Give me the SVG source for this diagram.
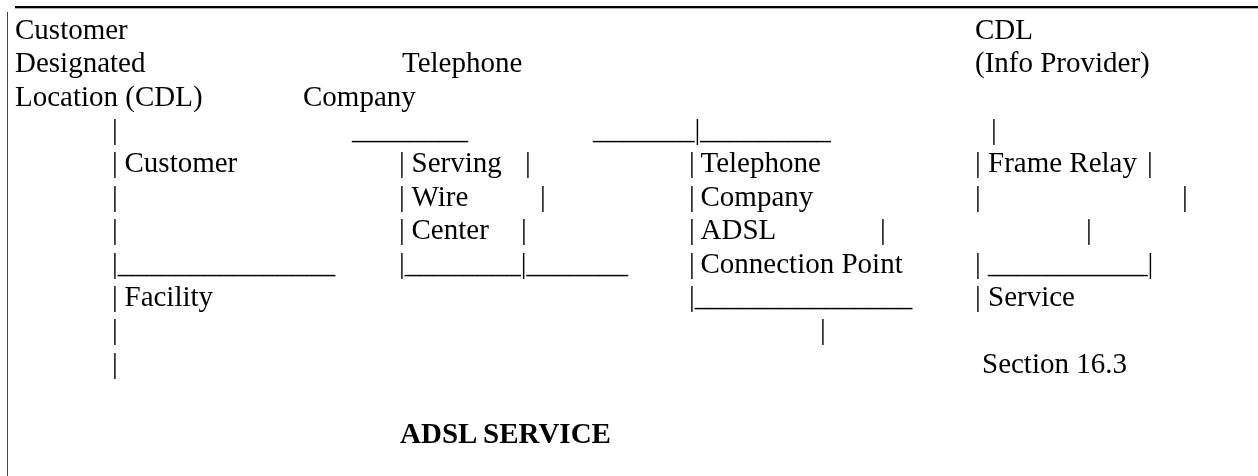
<svg xmlns="http://www.w3.org/2000/svg" width="1258" height="476" viewBox="0 0 1258 476">
<style>
text{font-family:"Liberation Serif","Times New Roman",serif;font-size:29px;fill:#000}
.b{font-weight:bold}
</style>
<defs>
<filter id="flat" x="0" y="0" width="1" height="1"><feOffset dx="0" dy="0"/></filter>
</defs>
<rect width="1258" height="476" fill="#fff"/>
<g filter="url(#flat)">
<rect width="1258" height="476" fill="#fff"/>
<g id="frame">
<rect x="15" y="6" width="1243" height="2.3" fill="#000"/>
<line x1="7.5" y1="12" x2="7.5" y2="476" stroke="#444" stroke-width="1"/>
</g>
<g id="customer-location">
<text x="15" y="39">Customer</text>
<text x="15" y="72.4">Designated</text>
<text x="15" y="105.7">Location (CDL)</text>
</g>
<g id="telephone-company">
<text x="402" y="72.4">Telephone</text>
<text x="303" y="105.7">Company</text>
</g>
<g id="info-provider">
<text x="975" y="39">CDL</text>
<text x="975" y="72.4">(Info Provider)</text>
</g>
<g id="connectors">
<text x="112" y="139">|</text>
<text x="352" y="139">________</text>
<text x="593" y="139">_______|_________</text>
<text x="991" y="139">|</text>
<text x="112" y="205.8">|</text>
<text x="112" y="239.1">|</text>
<text x="112" y="272.5">|_______________</text>
<text x="112" y="339.2">|</text>
<text x="820" y="339.2">|</text>
<text x="112" y="372.5">|</text>
</g>
<g id="customer-facility">
<text y="172.4"><tspan x="112">|</tspan><tspan x="124.5">Customer</tspan></text>
<text y="305.8"><tspan x="112">|</tspan><tspan x="124.5">Facility</tspan></text>
</g>
<g id="serving-wire-center">
<text y="172.4"><tspan x="399">|</tspan><tspan x="411.5">Serving</tspan><tspan x="525">|</tspan></text>
<text y="205.8"><tspan x="399">|</tspan><tspan x="411.5">Wire</tspan><tspan x="540">|</tspan></text>
<text y="239.1"><tspan x="399">|</tspan><tspan x="411.5">Center</tspan><tspan x="521">|</tspan></text>
<text x="399" y="272.5">|________|_______</text>
</g>
<g id="adsl-connection-point">
<text y="172.4"><tspan x="689">|</tspan><tspan x="700.5">Telephone</tspan></text>
<text y="205.8"><tspan x="689">|</tspan><tspan x="700.5">Company</tspan></text>
<text y="239.1"><tspan x="689">|</tspan><tspan x="700.5">ADSL</tspan><tspan x="880">|</tspan></text>
<text y="272.5"><tspan x="689">|</tspan><tspan x="700.5">Connection Point</tspan></text>
<text x="689" y="305.8">|_______________</text>
</g>
<g id="frame-relay-service">
<text y="172.4"><tspan x="975">|</tspan><tspan x="988">Frame Relay</tspan><tspan x="1147">|</tspan></text>
<text y="205.8"><tspan x="975">|</tspan><tspan x="1182">|</tspan></text>
<text x="1086" y="239.1">|</text>
<text y="272.5"><tspan x="975">|</tspan><tspan x="988">___________|</tspan></text>
<text y="305.8"><tspan x="975">|</tspan><tspan x="988">Service</tspan></text>
<text x="982" y="372.5">Section 16.3</text>
</g>
<g id="title">
<text class="b" x="400" y="443">ADSL SERVICE</text>
</g>
</g>
</svg>
